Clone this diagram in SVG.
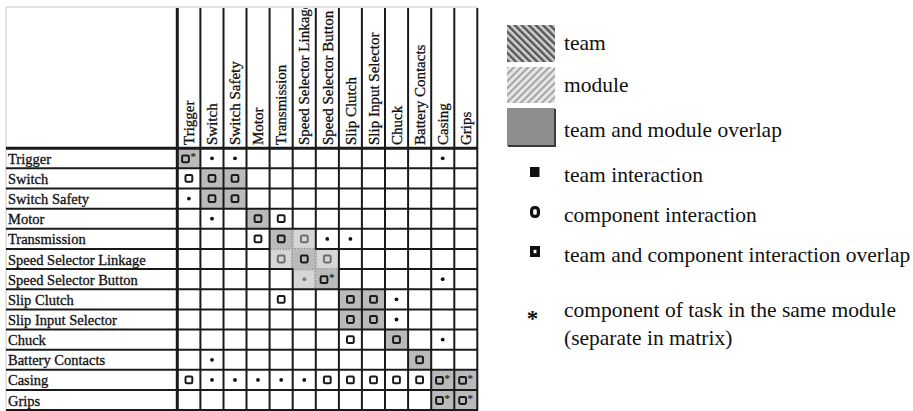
<svg xmlns="http://www.w3.org/2000/svg" width="913" height="411" viewBox="0 0 913 411">
  <style>
    .lbl { font-family: "Liberation Serif", "Times New Roman", serif; font-size: 14.5px; fill: #111; stroke: #111; stroke-width: 0.3px; }
    .hdr { font-family: "Liberation Serif", "Times New Roman", serif; font-size: 15px; fill: #111; stroke: #111; stroke-width: 0.3px; }
    .leg { font-family: "Liberation Serif", "Times New Roman", serif; font-size: 21.5px; fill: #111; }
    .grid line { stroke: #1a1a1a; stroke-width: 2; }
    .dark { fill: #bababa; }
    .light { fill: #d6d6d6; }
    .comp { fill: none; stroke: #1a1a1a; stroke-width: 2; }
    .compG { fill: none; stroke: #6e6e6e; stroke-width: 2; }
    .dot { fill: #111; }
    .dotG { fill: #777; }
    .st { font-family: "Liberation Serif", "Times New Roman", serif; font-size: 11px; font-weight: bold; fill: #222; }
  </style>
  <defs>
    <rect id="sq" x="-3.4" y="-3.4" width="6.8" height="6.8" rx="1.3"/>
    <circle id="pt" r="1.9"/>
    <pattern id="hatchTeam" width="5" height="5" patternUnits="userSpaceOnUse" patternTransform="rotate(-45)">
      <rect width="5" height="5" fill="#cfcfcf"/>
      <rect width="2.4" height="5" fill="#555"/>
    </pattern>
    <pattern id="hatchModule" width="5" height="5" patternUnits="userSpaceOnUse" patternTransform="rotate(45)">
      <rect width="5" height="5" fill="#e6e6e6"/>
      <rect width="2" height="5" fill="#a6a6a6"/>
    </pattern>
    <clipPath id="hdrClip"><rect x="177" y="8" width="301" height="140"/></clipPath>
  </defs>

  <rect width="913" height="411" fill="#fff"/>

  <!-- cell shading: team/module blocks along the diagonal -->
  <g id="shading">
    <rect class="dark" x="177.3" y="148.2" width="23.1" height="20.2"/>
    <rect class="dark" x="200.4" y="168.35" width="46.1" height="40.3"/>
    <rect class="dark" x="246.5" y="208.5" width="23.1" height="20.2"/>
    <rect class="dark" x="269.6" y="228.65" width="23.1" height="20.2"/>
    <rect class="light" x="292.7" y="228.65" width="23.1" height="20.2"/>
    <rect class="light" x="269.6" y="248.8" width="23.1" height="20.2"/>
    <rect class="dark" x="292.7" y="248.8" width="23.1" height="20.2"/>
    <rect class="light" x="315.8" y="248.8" width="23.1" height="20.2"/>
    <rect class="light" x="292.7" y="268.95" width="23.1" height="20.2"/>
    <rect class="dark" x="315.8" y="268.95" width="23.1" height="20.2"/>
    <rect class="dark" x="338.9" y="289.1" width="46.1" height="40.3"/>
    <rect class="dark" x="385" y="329.4" width="23.1" height="20.2"/>
    <rect class="dark" x="408.1" y="349.55" width="23.1" height="20.2"/>
    <rect class="dark" x="431.2" y="369.7" width="46.1" height="40.3"/>
  </g>

  <!-- table grid -->
  <g id="grid" class="grid">
    <line x1="6" y1="7" x2="478" y2="7" style="stroke:#c8c8c8;stroke-width:1"/>
    <line x1="6" y1="7" x2="6" y2="411" style="stroke:#c8c8c8;stroke-width:1"/>
    <line x1="6" y1="148.2" x2="478" y2="148.2" style="stroke-width:3"/>
    <line x1="6" y1="168.35" x2="478" y2="168.35"/>
    <line x1="6" y1="188.5" x2="478" y2="188.5"/>
    <line x1="6" y1="208.65" x2="478" y2="208.65"/>
    <line x1="6" y1="228.8" x2="478" y2="228.8"/>
    <line x1="6" y1="248.95" x2="478" y2="248.95"/>
    <line x1="6" y1="269.1" x2="478" y2="269.1"/>
    <line x1="6" y1="289.25" x2="478" y2="289.25"/>
    <line x1="6" y1="309.4" x2="478" y2="309.4"/>
    <line x1="6" y1="329.55" x2="478" y2="329.55"/>
    <line x1="6" y1="349.7" x2="478" y2="349.7"/>
    <line x1="6" y1="369.85" x2="478" y2="369.85"/>
    <line x1="6" y1="390" x2="478" y2="390"/>
    <line x1="6" y1="410" x2="478" y2="410"/>
    <line x1="177.3" y1="8" x2="177.3" y2="411" style="stroke-width:3"/>
    <line x1="200.4" y1="8" x2="200.4" y2="411"/>
    <line x1="223.5" y1="8" x2="223.5" y2="411"/>
    <line x1="246.5" y1="8" x2="246.5" y2="411"/>
    <line x1="269.6" y1="8" x2="269.6" y2="411"/>
    <line x1="292.7" y1="8" x2="292.7" y2="411"/>
    <line x1="315.8" y1="8" x2="315.8" y2="411"/>
    <line x1="338.9" y1="8" x2="338.9" y2="411"/>
    <line x1="361.9" y1="8" x2="361.9" y2="411"/>
    <line x1="385" y1="8" x2="385" y2="411"/>
    <line x1="408.1" y1="8" x2="408.1" y2="411"/>
    <line x1="431.2" y1="8" x2="431.2" y2="411"/>
    <line x1="454.3" y1="8" x2="454.3" y2="411"/>
    <line x1="477.3" y1="8" x2="477.3" y2="411"/>
  </g>

  <!-- dotted boundaries inside the transmission / speed selector module -->
  <g id="module-inner">
    <line x1="270.6" y1="248.95" x2="314.8" y2="248.95" stroke="#c6c6c6" stroke-width="2.6"/>
    <line x1="293.7" y1="269.1" x2="337.9" y2="269.1" stroke="#c6c6c6" stroke-width="2.6"/>
    <line x1="292.7" y1="229.8" x2="292.7" y2="268.1" stroke="#c6c6c6" stroke-width="2.6"/>
    <line x1="315.8" y1="249.9" x2="315.8" y2="288.2" stroke="#c6c6c6" stroke-width="2.6"/>
    <g stroke="#8a8a8a" stroke-width="1.2" stroke-dasharray="1.5 1.5">
      <line x1="270.6" y1="248.95" x2="314.8" y2="248.95"/>
      <line x1="293.7" y1="269.1" x2="337.9" y2="269.1"/>
      <line x1="292.7" y1="229.8" x2="292.7" y2="268.1"/>
      <line x1="315.8" y1="249.9" x2="315.8" y2="288.2"/>
    </g>
  </g>

  <!-- column headings -->
  <g id="headers" class="hdr" clip-path="url(#hdrClip)">
    <text transform="translate(194,145) rotate(-90)">Trigger</text>
    <text transform="translate(217.1,145) rotate(-90)">Switch</text>
    <text transform="translate(240.2,145) rotate(-90)">Switch Safety</text>
    <text transform="translate(263.2,145) rotate(-90)">Motor</text>
    <text transform="translate(286.3,145) rotate(-90)">Transmission</text>
    <text transform="translate(309.4,145) rotate(-90)">Speed Selector Linkage</text>
    <text transform="translate(332.5,145) rotate(-90)">Speed Selector Button</text>
    <text transform="translate(355.6,145) rotate(-90)">Slip Clutch</text>
    <text transform="translate(378.6,145) rotate(-90)">Slip Input Selector</text>
    <text transform="translate(401.7,145) rotate(-90)">Chuck</text>
    <text transform="translate(424.8,145) rotate(-90)">Battery Contacts</text>
    <text transform="translate(447.9,145) rotate(-90)">Casing</text>
    <text transform="translate(471,145) rotate(-90)">Grips</text>
  </g>

  <!-- rows: label and interaction marks -->
  <g id="row-trigger">
    <text class="lbl" x="8" y="163.7">Trigger</text>
    <use href="#sq" class="comp" x="185.5" y="158.8"/><text class="st" x="190.5" y="160">*</text>
    <use href="#pt" class="dot" x="212" y="158.3"/>
    <use href="#pt" class="dot" x="235" y="158.3"/>
    <use href="#pt" class="dot" x="442.7" y="158.3"/>
  </g>
  <g id="row-switch">
    <text class="lbl" x="8" y="183.9">Switch</text>
    <use href="#sq" class="comp" x="188.9" y="178.4"/>
    <use href="#sq" class="comp" x="212" y="178.4"/>
    <use href="#sq" class="comp" x="235" y="178.4"/>
  </g>
  <g id="row-switch-safety">
    <text class="lbl" x="8" y="204">Switch Safety</text>
    <use href="#pt" class="dot" x="188.9" y="198.6"/>
    <use href="#sq" class="comp" x="212" y="198.6"/>
    <use href="#sq" class="comp" x="235" y="198.6"/>
  </g>
  <g id="row-motor">
    <text class="lbl" x="8" y="224.2">Motor</text>
    <use href="#pt" class="dot" x="212" y="218.7"/>
    <use href="#sq" class="comp" x="258" y="218.7"/>
    <use href="#sq" class="comp" x="281.2" y="218.7"/>
  </g>
  <g id="row-transmission">
    <text class="lbl" x="8" y="244.3">Transmission</text>
    <use href="#sq" class="comp" x="258" y="238.9"/>
    <use href="#sq" class="comp" x="281.2" y="238.9"/>
    <use href="#sq" class="compG" x="304.3" y="238.9"/>
    <use href="#pt" class="dot" x="327.3" y="238.9"/>
    <use href="#pt" class="dot" x="350.4" y="238.9"/>
  </g>
  <g id="row-speed-selector-linkage">
    <text class="lbl" x="8" y="264.5">Speed Selector Linkage</text>
    <use href="#sq" class="compG" x="281.2" y="259"/>
    <use href="#sq" class="comp" x="304.3" y="259"/>
    <use href="#sq" class="compG" x="327.3" y="259"/>
  </g>
  <g id="row-speed-selector-button">
    <text class="lbl" x="8" y="284.6">Speed Selector Button</text>
    <use href="#pt" class="dotG" x="304.3" y="279.2"/>
    <use href="#sq" class="comp" x="324" y="279.7"/><text class="st" x="329" y="281">*</text>
    <use href="#pt" class="dot" x="442.7" y="279.2"/>
  </g>
  <g id="row-slip-clutch">
    <text class="lbl" x="8" y="304.8">Slip Clutch</text>
    <use href="#sq" class="comp" x="281.2" y="299.3"/>
    <use href="#sq" class="comp" x="350.4" y="299.3"/>
    <use href="#sq" class="comp" x="373.5" y="299.3"/>
    <use href="#pt" class="dot" x="396.5" y="299.3"/>
  </g>
  <g id="row-slip-input-selector">
    <text class="lbl" x="8" y="325">Slip Input Selector</text>
    <use href="#sq" class="comp" x="350.4" y="319.5"/>
    <use href="#sq" class="comp" x="373.5" y="319.5"/>
    <use href="#pt" class="dot" x="396.5" y="319.5"/>
  </g>
  <g id="row-chuck">
    <text class="lbl" x="8" y="345.1">Chuck</text>
    <use href="#sq" class="comp" x="350.4" y="339.6"/>
    <use href="#sq" class="comp" x="396.5" y="339.6"/>
    <use href="#pt" class="dot" x="442.7" y="339.6"/>
  </g>
  <g id="row-battery-contacts">
    <text class="lbl" x="8" y="365.3">Battery Contacts</text>
    <use href="#pt" class="dot" x="212" y="359.8"/>
    <use href="#sq" class="comp" x="419.6" y="359.8"/>
  </g>
  <g id="row-casing">
    <text class="lbl" x="8" y="385.4">Casing</text>
    <use href="#sq" class="comp" x="188.9" y="379.9"/>
    <use href="#pt" class="dot" x="212" y="379.9"/>
    <use href="#pt" class="dot" x="235" y="379.9"/>
    <use href="#pt" class="dot" x="258" y="379.9"/>
    <use href="#pt" class="dot" x="281.2" y="379.9"/>
    <use href="#pt" class="dot" x="304.3" y="379.9"/>
    <use href="#sq" class="comp" x="327.3" y="379.9"/>
    <use href="#sq" class="comp" x="350.4" y="379.9"/>
    <use href="#sq" class="comp" x="373.5" y="379.9"/>
    <use href="#sq" class="comp" x="396.5" y="379.9"/>
    <use href="#sq" class="comp" x="419.6" y="379.9"/>
    <use href="#sq" class="comp" x="439.5" y="380.4"/><text class="st" x="444.5" y="381.5">*</text>
    <use href="#sq" class="comp" x="462.6" y="380.4"/><text class="st" x="467.6" y="381.5">*</text>
  </g>
  <g id="row-grips">
    <text class="lbl" x="8" y="405.5">Grips</text>
    <use href="#sq" class="comp" x="439.5" y="400.5"/><text class="st" x="444.5" y="401.6">*</text>
    <use href="#sq" class="comp" x="462.6" y="400.5"/><text class="st" x="467.6" y="401.6">*</text>
  </g>

  <!-- key -->
  <g id="legend">
    <g id="key-team">
      <rect x="507" y="25" width="48" height="37" fill="url(#hatchTeam)"/>
      <text class="leg" x="564" y="50">team</text>
    </g>
    <g id="key-module">
      <rect x="507" y="67" width="48" height="36" fill="url(#hatchModule)"/>
      <text class="leg" x="564" y="92">module</text>
    </g>
    <g id="key-overlap">
      <rect x="507" y="108" width="48" height="38" fill="#8e8e8e"/>
      <path d="M555 109 V146 H508" fill="none" stroke="#3a3a3a" stroke-width="2"/>
      <text class="leg" x="564" y="137">team and module overlap</text>
    </g>
    <g id="key-team-interaction">
      <rect x="530" y="167" width="9.5" height="10" fill="#111"/>
      <text class="leg" x="564" y="182">team interaction</text>
    </g>
    <g id="key-component-interaction">
      <rect x="531.6" y="207.6" width="6.8" height="8.8" rx="2.8" fill="none" stroke="#111" stroke-width="3.2"/>
      <text class="leg" x="564" y="222">component interaction</text>
    </g>
    <g id="key-interaction-overlap">
      <rect x="530" y="246" width="10" height="11" fill="#111"/>
      <rect x="533.6" y="249.8" width="2.8" height="3.4" fill="#fff"/>
      <text class="leg" x="564" y="262">team and component interaction overlap</text>
    </g>
    <g id="key-same-module">
      <text class="leg" x="532.5" y="326" text-anchor="middle" style="font-size:23px;font-weight:bold">*</text>
      <text class="leg" x="564" y="317">component of task in the same module</text>
      <text class="leg" x="564" y="345">(separate in matrix)</text>
    </g>
  </g>
</svg>
